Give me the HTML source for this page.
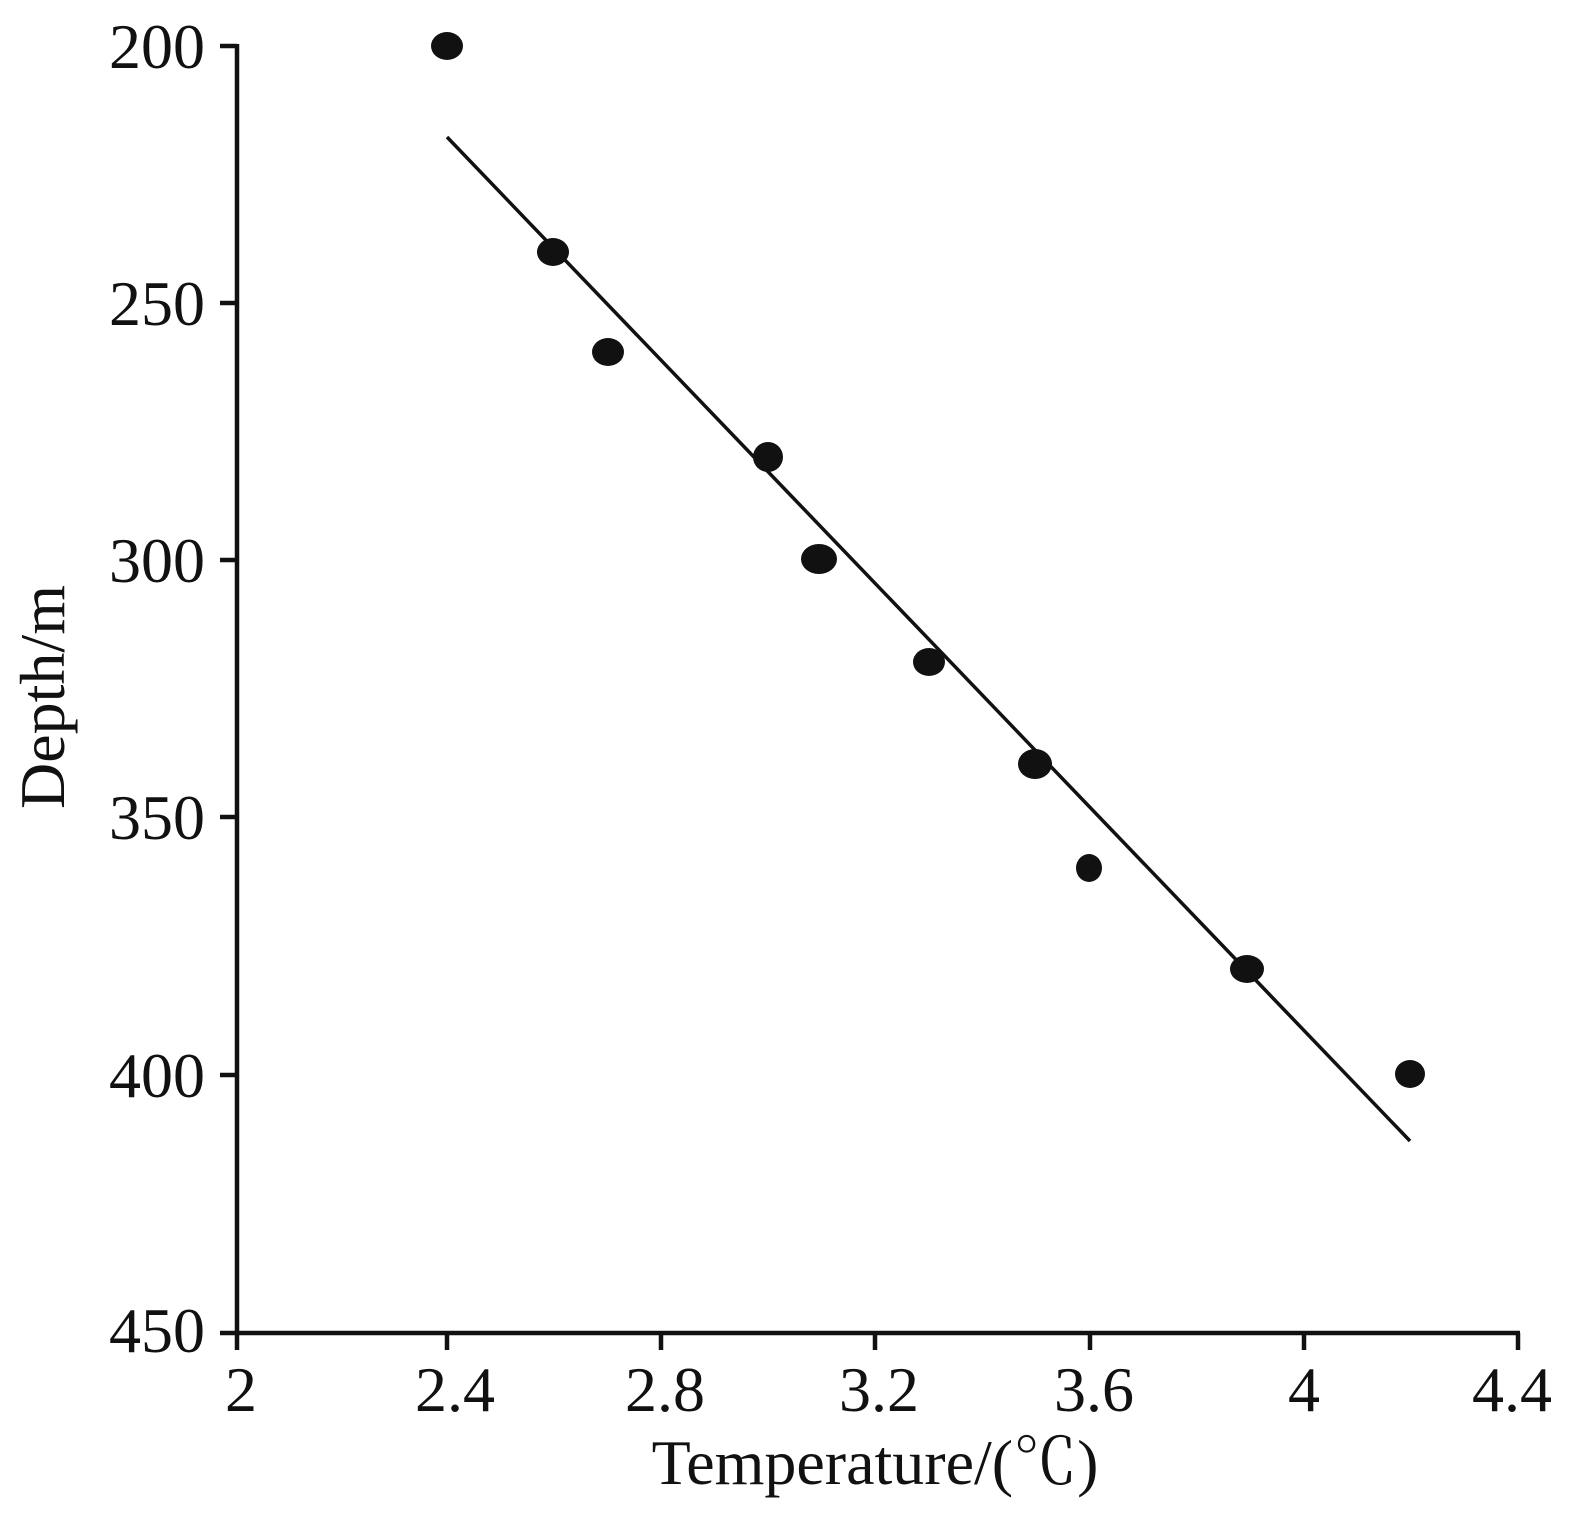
<!DOCTYPE html>
<html><head><meta charset="utf-8"><style>
html,body{margin:0;padding:0;background:#fff;}
svg text{font-family:"Liberation Serif","Noto Serif CJK SC",serif;fill:#111;}
</style></head><body>
<svg width="1572" height="1518" viewBox="0 0 1572 1518" xmlns="http://www.w3.org/2000/svg">
<g stroke="#111" stroke-width="4.5" fill="none">
<line x1="237" y1="44" x2="237" y2="1333"/>
<line x1="220" y1="1333" x2="1520" y2="1333"/>
<line x1="220" y1="46" x2="237" y2="46"/>
<line x1="220" y1="303" x2="237" y2="303"/>
<line x1="220" y1="560" x2="237" y2="560"/>
<line x1="220" y1="817" x2="237" y2="817"/>
<line x1="220" y1="1075" x2="237" y2="1075"/>
<line x1="237" y1="1333" x2="237" y2="1350"/>
<line x1="447" y1="1333" x2="447" y2="1350"/>
<line x1="661" y1="1333" x2="661" y2="1350"/>
<line x1="875" y1="1333" x2="875" y2="1350"/>
<line x1="1090" y1="1333" x2="1090" y2="1350"/>
<line x1="1304" y1="1333" x2="1304" y2="1350"/>
<line x1="1518" y1="1333" x2="1518" y2="1350"/>
<line x1="447" y1="137" x2="1410" y2="1141" stroke-width="3.5"/>
</g>
<g fill="#111">
<ellipse cx="447" cy="46" rx="16" ry="14"/>
<ellipse cx="553" cy="252" rx="16" ry="14"/>
<ellipse cx="608" cy="352" rx="16" ry="14"/>
<ellipse cx="768" cy="457" rx="15" ry="15"/>
<ellipse cx="819" cy="559" rx="18" ry="15"/>
<ellipse cx="929" cy="662" rx="16" ry="14"/>
<ellipse cx="1035" cy="764" rx="17" ry="15"/>
<ellipse cx="1089" cy="868" rx="13" ry="14"/>
<ellipse cx="1247" cy="969" rx="17" ry="14"/>
<ellipse cx="1410" cy="1074" rx="15" ry="14"/>
</g>
<g font-size="64" text-anchor="end">
<text x="205" y="68">200</text>
<text x="205" y="325">250</text>
<text x="205" y="582">300</text>
<text x="205" y="839">350</text>
<text x="205" y="1097">400</text>
<text x="205" y="1352">450</text>
</g>
<g font-size="64" text-anchor="middle">
<text x="241" y="1411">2</text>
<text x="455" y="1411">2.4</text>
<text x="665" y="1411">2.8</text>
<text x="879" y="1411">3.2</text>
<text x="1094" y="1411">3.6</text>
<text x="1304" y="1411">4</text>
<text x="1512" y="1411">4.4</text>
<text x="875" y="1484">Temperature/(℃)</text>
<text transform="translate(64,697) rotate(-90)">Depth/m</text>
</g>
</svg>
</body></html>
